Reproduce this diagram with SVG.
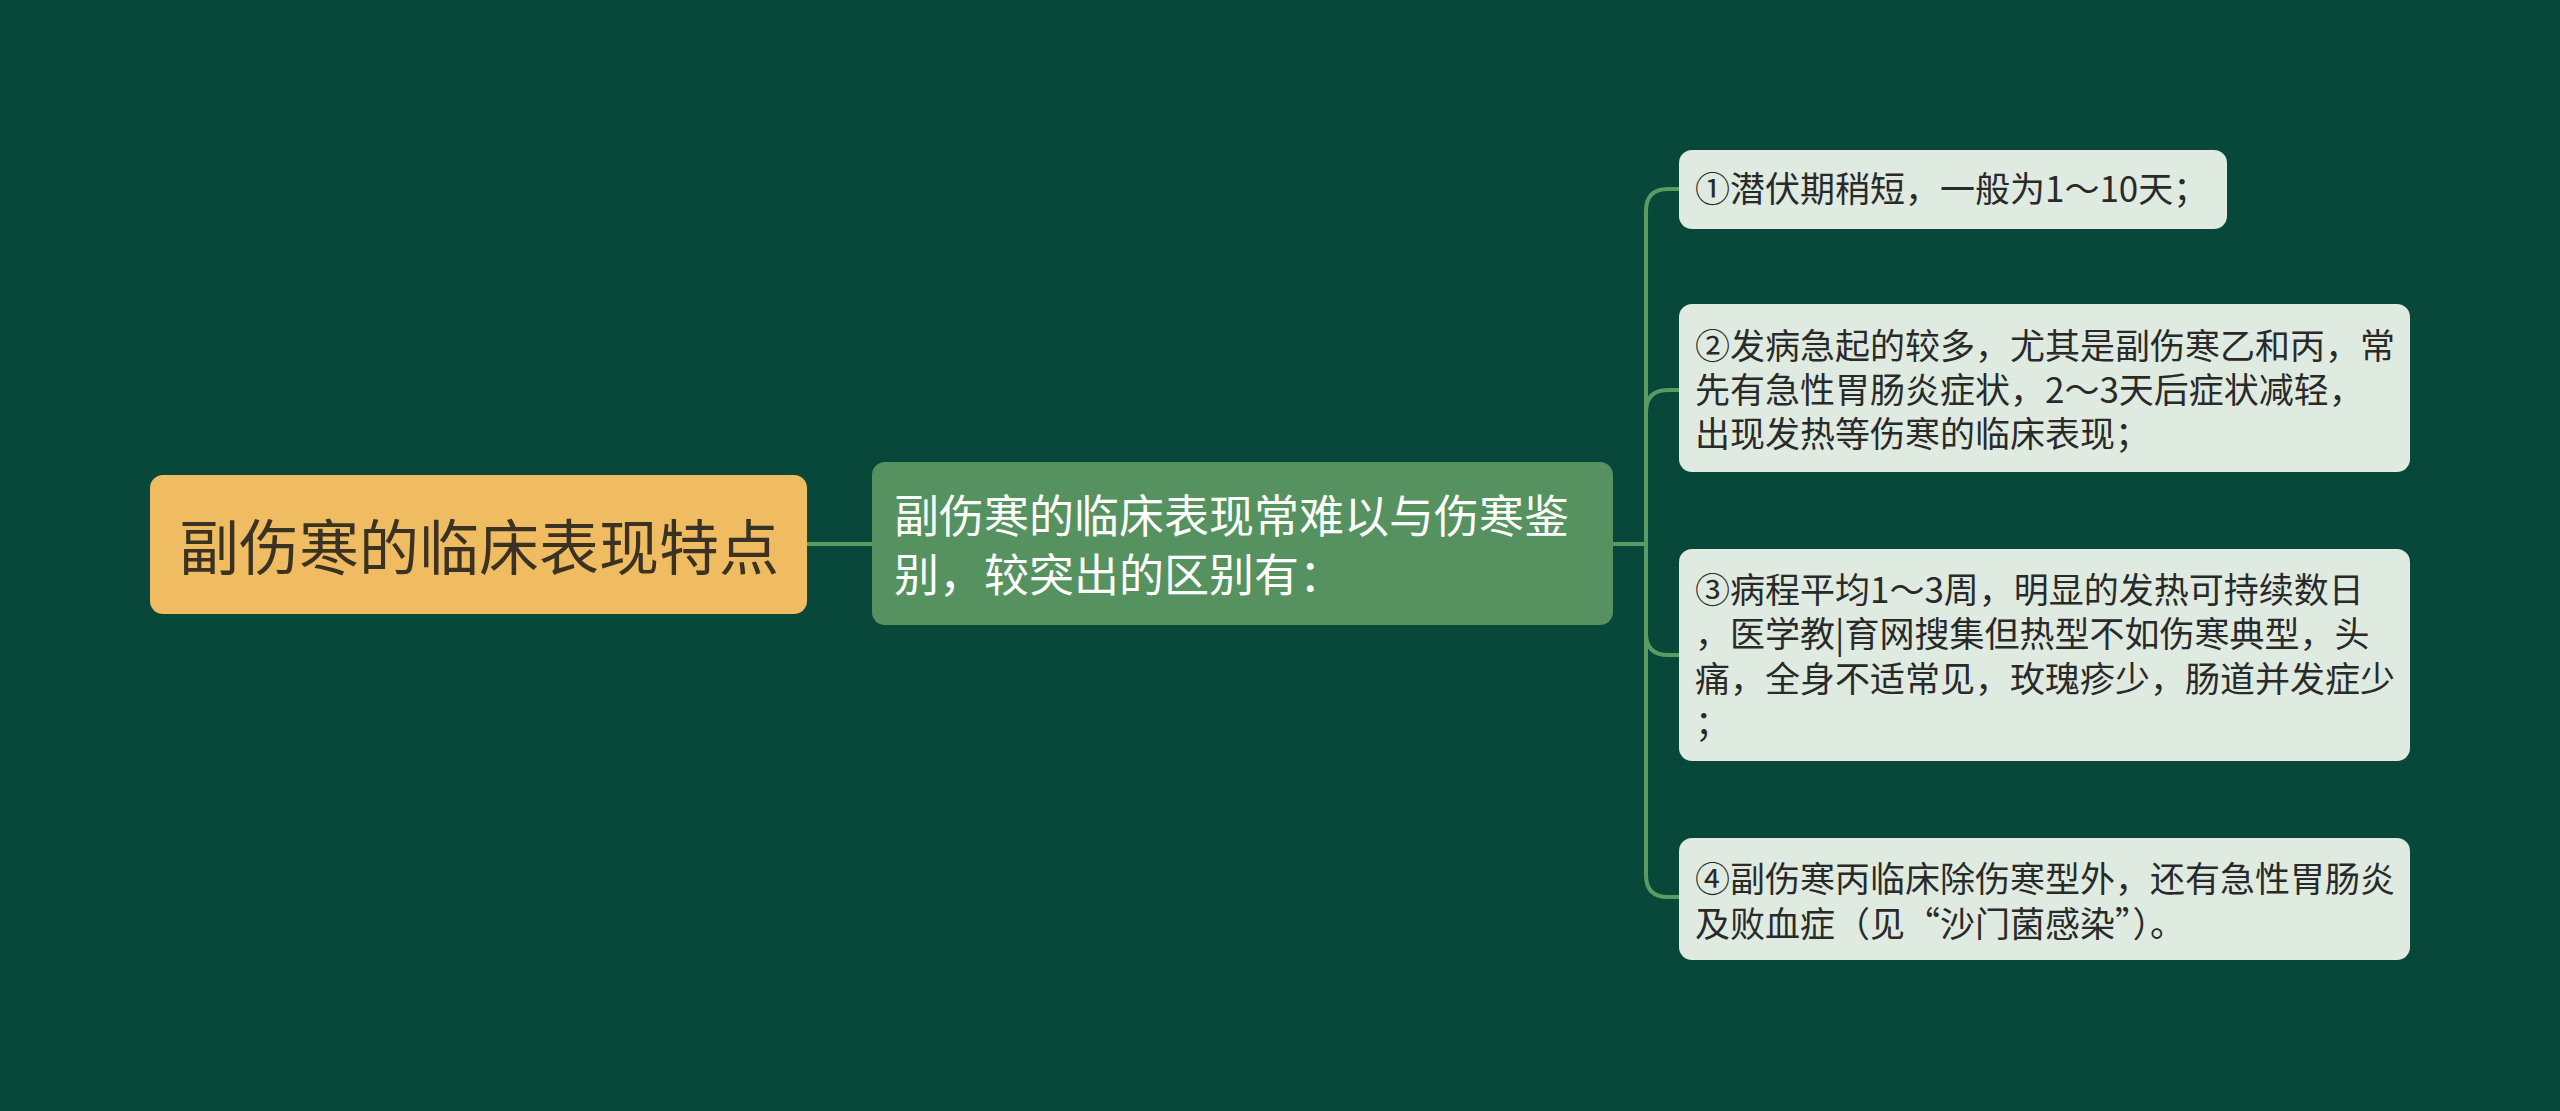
<svg xmlns="http://www.w3.org/2000/svg" width="2560" height="1111" viewBox="0 0 2560 1111">
<style>
.bg{fill:#08483a}
.conn{fill:none;stroke:#5a9a63;stroke-width:4}
.t{font-family:"Noto Sans CJK SC","Noto Sans",sans-serif}
.root{fill:#f0bc62}
.mid{fill:#559260}
.leaf{fill:#dfeae0}
.rt{font-size:60px;fill:#3a3222}
.mt{font-size:45px;fill:#ffffff}
.lt{font-size:35px;fill:#2a2a2a}
</style>
<rect class="bg" x="0" y="0" width="2560" height="1111"/>
<g id="connectors">
<path class="conn" d="M807 544 H872"/>
<path class="conn" d="M1613 544 H1646"/>
<path class="conn" d="M1646 544 V211 Q1646 189 1668 189 H1679"/>
<path class="conn" d="M1646 544 V412 Q1646 390 1668 390 H1679"/>
<path class="conn" d="M1646 544 V633 Q1646 655 1668 655 H1679"/>
<path class="conn" d="M1646 544 V875 Q1646 897 1668 897 H1679"/>
</g>
<g id="root">
<rect class="root" x="150" y="475" width="657" height="139" rx="13"/>
<text class="t rt" x="179" y="570">副伤寒的临床表现特点</text>
</g>
<g id="middle">
<rect class="mid" x="872" y="462" width="741" height="163" rx="13"/>
<text class="t mt" x="894" y="533">副伤寒的临床表现常难以与伤寒鉴</text>
<text class="t mt" x="894" y="592">别，较突出的区别有：</text>
</g>
<g id="leaf1">
<rect class="leaf" x="1679" y="150" width="548" height="79" rx="13"/>
<text class="t lt" x="1695" y="202">①潜伏期稍短，一般为1～10天；</text>
</g>
<g id="leaf2">
<rect class="leaf" x="1679" y="304" width="731" height="168" rx="13"/>
<text class="t lt" x="1695" y="359">②发病急起的较多，尤其是副伤寒乙和丙，常</text>
<text class="t lt" x="1695" y="403">先有急性胃肠炎症状，2～3天后症状减轻，</text>
<text class="t lt" x="1695" y="447">出现发热等伤寒的临床表现；</text>
</g>
<g id="leaf3">
<rect class="leaf" x="1679" y="549" width="731" height="212" rx="13"/>
<text class="t lt" x="1695" y="603">③病程平均1～3周，明显的发热可持续数日</text>
<text class="t lt" x="1695" y="647">，医学教|育网搜集但热型不如伤寒典型，头</text>
<text class="t lt" x="1695" y="692">痛，全身不适常见，玫瑰疹少，肠道并发症少</text>
<text class="t lt" x="1695" y="736">；</text>
</g>
<g id="leaf4">
<rect class="leaf" x="1679" y="838" width="731" height="122" rx="13"/>
<text class="t lt" x="1695" y="892">④副伤寒丙临床除伤寒型外，还有急性胃肠炎</text>
<text class="t lt" x="1695" y="937">及败血症（见“沙门菌感染”）。</text>
</g>
</svg>
